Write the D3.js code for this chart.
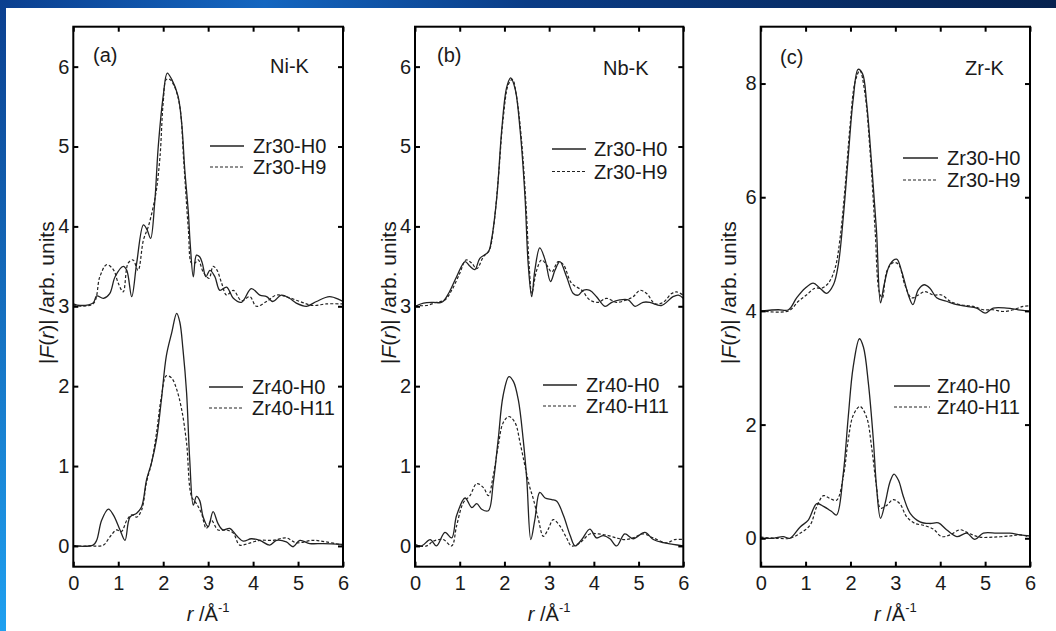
<!DOCTYPE html>
<html><head><meta charset="utf-8">
<script src="https://cdn.jsdelivr.net/npm/d3@7"></script>
<style>body{margin:0;overflow:hidden;background:#fff;} text{font-family:"Liberation Sans",Arial,sans-serif;fill:#1a1a1a;}</style>
</head><body><svg id="c" width="1056" height="631"></svg>
<script>
// ---------- data ----------
const xTicks = [0, 1, 2, 3, 4, 5, 6];
const yTicksAB = [0, 1, 2, 3, 4, 5, 6];
const yTicksC = [0, 2, 4, 6, 8];
const panelLabels = ["(a)", "(b)", "(c)"];
const edgeLabels = ["Ni-K", "Nb-K", "Zr-K"];
const legendTop = ["Zr30-H0", "Zr30-H9"];
const legendBottom = ["Zr40-H0", "Zr40-H11"];

// Panel (a) Ni-K  [r, |F(r)|]
const niK_Zr30H0 = [[0,3.03],[0.15,3.01],[0.44,3.04],[0.52,3.13],[0.67,3.1],[0.81,3.16],[0.93,3.37],[1.11,3.5],[1.19,3.45],[1.3,3.12],[1.41,3.54],[1.56,4.02],[1.64,3.96],[1.72,3.85],[1.81,4.29],[1.89,5.0],[2.0,5.63],[2.09,5.92],[2.19,5.84],[2.33,5.63],[2.41,5.3],[2.48,4.71],[2.56,4.17],[2.6,3.79],[2.67,3.37],[2.74,3.64],[2.81,3.62],[2.87,3.54],[2.95,3.37],[3.04,3.45],[3.15,3.37],[3.26,3.2],[3.41,3.24],[3.56,3.1],[3.74,3.05],[3.96,3.22],[4.15,3.14],[4.3,3.12],[4.44,3.06],[4.63,3.14],[4.81,3.1],[4.96,3.04],[5.19,3.0],[5.41,3.06],[5.7,3.12],[5.93,3.08],[6,3.06]];
const niK_Zr30H9 = [[0,3.01],[0.44,3.03],[0.59,3.37],[0.74,3.52],[0.89,3.46],[1.0,3.29],[1.11,3.18],[1.22,3.54],[1.33,3.58],[1.44,3.45],[1.56,3.83],[1.67,4.0],[1.78,4.25],[1.85,4.46],[1.93,4.88],[2.0,5.55],[2.07,5.84],[2.15,5.84],[2.26,5.74],[2.37,5.5],[2.46,4.79],[2.56,3.96],[2.63,3.54],[2.7,3.54],[2.78,3.58],[2.89,3.43],[3.02,3.35],[3.11,3.5],[3.19,3.46],[3.3,3.29],[3.41,3.14],[3.56,3.2],[3.74,3.07],[3.93,3.12],[4.07,3.0],[4.3,3.06],[4.52,3.14],[4.74,3.12],[5.04,3.06],[5.33,3.01],[5.63,3.03],[6,3.03]];
const niK_Zr40H0 = [[0,0.0],[0.44,0.01],[0.52,0.07],[0.63,0.32],[0.78,0.46],[0.89,0.39],[1.04,0.2],[1.15,0.07],[1.26,0.36],[1.41,0.41],[1.52,0.49],[1.63,0.83],[1.74,1.04],[1.85,1.33],[1.96,1.83],[2.07,2.38],[2.19,2.67],[2.3,2.91],[2.37,2.8],[2.44,2.46],[2.52,1.92],[2.59,1.08],[2.67,0.51],[2.74,0.62],[2.81,0.57],[2.89,0.36],[3.0,0.24],[3.11,0.43],[3.22,0.28],[3.33,0.2],[3.48,0.22],[3.63,0.13],[3.78,0.06],[3.96,0.09],[4.15,0.07],[4.37,0.01],[4.52,0.07],[4.74,0.05],[4.89,-0.01],[5.04,0.07],[5.26,0.03],[5.56,0.03],[6,0.02]];
const niK_Zr40H11 = [[0,0.0],[0.37,0.0],[0.67,0.01],[0.81,0.11],[0.96,0.2],[1.07,0.18],[1.19,0.32],[1.3,0.39],[1.41,0.36],[1.52,0.45],[1.63,0.8],[1.74,1.04],[1.85,1.41],[1.96,1.87],[2.07,2.13],[2.19,2.1],[2.3,1.96],[2.41,1.71],[2.52,1.29],[2.63,0.62],[2.74,0.53],[2.85,0.41],[2.96,0.22],[3.07,0.32],[3.22,0.2],[3.41,0.2],[3.56,0.16],[3.7,0.01],[3.89,0.03],[4.15,0.07],[4.44,0.07],[4.74,0.1],[4.96,0.04],[5.33,0.07],[5.63,0.05],[6,0.01]];

// Panel (b) Nb-K
const nbK_Zr30H0 = [[0,3.0],[0.19,3.04],[0.41,3.05],[0.6,3.05],[0.75,3.16],[0.93,3.37],[1.12,3.56],[1.23,3.5],[1.34,3.46],[1.45,3.6],[1.64,3.68],[1.71,3.83],[1.83,4.37],[1.94,5.21],[2.05,5.74],[2.14,5.86],[2.24,5.72],[2.35,5.21],[2.46,4.37],[2.53,3.54],[2.61,3.12],[2.68,3.45],[2.79,3.73],[2.91,3.58],[3.03,3.31],[3.13,3.45],[3.24,3.56],[3.39,3.37],[3.54,3.16],[3.65,3.14],[3.76,3.2],[3.91,3.2],[4.06,3.12],[4.25,3.0],[4.4,3.05],[4.58,3.08],[4.77,3.08],[4.92,3.0],[5.1,3.05],[5.25,3.05],[5.51,3.01],[5.77,3.12],[5.89,3.14],[6,3.1]];
const nbK_Zr30H9 = [[0,3.01],[0.26,3.01],[0.48,3.05],[0.67,3.08],[0.82,3.2],[1.0,3.41],[1.14,3.58],[1.27,3.54],[1.38,3.47],[1.53,3.62],[1.66,3.7],[1.75,3.96],[1.86,4.58],[1.97,5.34],[2.09,5.78],[2.18,5.84],[2.27,5.63],[2.38,5.09],[2.48,4.29],[2.56,3.45],[2.61,3.16],[2.72,3.45],[2.83,3.58],[2.94,3.52],[3.06,3.43],[3.2,3.56],[3.32,3.52],[3.5,3.29],[3.73,3.2],[3.91,3.08],[4.1,3.05],[4.28,3.1],[4.51,3.05],[4.73,3.08],[4.88,3.12],[5.03,3.2],[5.18,3.16],[5.37,3.03],[5.55,3.05],[5.74,3.16],[5.85,3.18],[6,3.14]];
const nbK_Zr40H0 = [[0,0.02],[0.15,0.0],[0.34,0.08],[0.48,0.0],[0.67,0.17],[0.82,0.1],[0.93,0.38],[1.12,0.6],[1.27,0.48],[1.38,0.53],[1.49,0.46],[1.64,0.44],[1.75,0.79],[1.86,1.33],[1.97,1.88],[2.1,2.12],[2.2,2.06],[2.31,1.83],[2.42,1.33],[2.5,0.83],[2.59,0.08],[2.68,0.33],[2.79,0.67],[2.91,0.6],[3.06,0.58],[3.17,0.56],[3.32,0.38],[3.47,0.13],[3.58,0.0],[3.73,0.08],[3.91,0.21],[4.06,0.1],[4.21,0.13],[4.36,0.09],[4.51,0.0],[4.69,0.15],[4.88,0.09],[5.14,0.17],[5.33,0.08],[5.55,0.04],[5.77,0.02],[6,0.0]];
const nbK_Zr40H11 = [[0,0.0],[0.26,0.0],[0.41,0.06],[0.63,0.08],[0.82,0.0],[0.93,0.25],[1.08,0.54],[1.23,0.63],[1.38,0.78],[1.53,0.73],[1.64,0.63],[1.75,0.88],[1.86,1.25],[1.97,1.54],[2.1,1.62],[2.24,1.54],[2.35,1.29],[2.46,1.0],[2.56,0.75],[2.65,0.58],[2.76,0.33],[2.87,0.12],[2.98,0.21],[3.09,0.33],[3.24,0.25],[3.39,0.1],[3.5,0.0],[3.69,0.04],[3.91,0.15],[4.1,0.15],[4.32,0.13],[4.51,0.1],[4.69,0.08],[4.88,0.1],[5.1,0.15],[5.33,0.1],[5.63,0.04],[5.81,0.08],[6,0.08]];

// Panel (c) Zr-K
const zrK_Zr30H0 = [[0,4.0],[0.39,4.02],[0.62,4.02],[0.8,4.23],[0.99,4.4],[1.17,4.49],[1.32,4.4],[1.47,4.31],[1.62,4.46],[1.73,4.82],[1.84,5.65],[1.95,6.71],[2.06,7.72],[2.17,8.25],[2.27,8.17],[2.36,7.66],[2.47,6.6],[2.58,5.41],[2.67,4.14],[2.75,4.46],[2.88,4.82],[3.03,4.91],[3.14,4.7],[3.29,4.28],[3.39,4.11],[3.51,4.37],[3.64,4.46],[3.77,4.4],[3.92,4.23],[4.14,4.17],[4.37,4.11],[4.59,4.08],[4.81,4.05],[5.0,3.96],[5.18,4.05],[5.48,4.05],[5.74,4.02],[6,3.99]];
const zrK_Zr30H9 = [[0,4.0],[0.62,4.0],[0.84,4.17],[1.02,4.28],[1.21,4.4],[1.36,4.4],[1.51,4.49],[1.66,4.76],[1.77,5.29],[1.88,6.18],[1.99,7.25],[2.1,8.02],[2.21,8.23],[2.32,7.84],[2.44,6.77],[2.55,5.41],[2.64,4.34],[2.71,4.23],[2.81,4.7],[2.95,4.85],[3.07,4.82],[3.21,4.46],[3.36,4.23],[3.51,4.28],[3.66,4.34],[3.85,4.28],[4.03,4.28],[4.22,4.17],[4.44,4.11],[4.74,4.08],[4.96,4.02],[5.18,4.02],[5.4,3.99],[5.63,4.02],[5.85,4.08],[6,4.09]];
const zrK_Zr40H0 = [[0,0.0],[0.28,0.0],[0.5,0.03],[0.65,0.0],[0.88,0.2],[1.06,0.32],[1.25,0.61],[1.4,0.56],[1.58,0.47],[1.69,0.41],[1.84,1.14],[1.95,2.13],[2.06,3.01],[2.2,3.51],[2.29,3.36],[2.4,2.72],[2.51,1.73],[2.58,0.91],[2.67,0.35],[2.77,0.61],[2.88,0.99],[2.97,1.13],[3.07,1.02],[3.18,0.73],[3.33,0.44],[3.55,0.29],[3.77,0.26],[3.96,0.27],[4.14,0.15],[4.37,0.03],[4.59,0.09],[4.77,-0.02],[4.96,0.09],[5.26,0.09],[5.55,0.09],[5.78,0.06],[6,0.04]];
const zrK_Zr40H11 = [[0,0.02],[0.36,0.0],[0.65,0.0],[0.88,0.09],[1.1,0.23],[1.25,0.56],[1.4,0.75],[1.54,0.7],[1.69,0.67],[1.84,1.08],[1.95,1.73],[2.06,2.16],[2.21,2.32],[2.36,2.13],[2.47,1.61],[2.58,0.91],[2.67,0.53],[2.81,0.58],[2.95,0.68],[3.1,0.61],[3.25,0.38],[3.44,0.26],[3.62,0.23],[3.85,0.16],[4.03,0.03],[4.22,0.06],[4.44,0.15],[4.63,0.09],[4.88,0.02],[5.18,0.02],[5.55,0.04],[5.78,0.06],[6,0.02]];

// ---------- layout ----------
const svg = d3.select("#c");
const defs = svg.append("defs");
const g1 = defs.append("linearGradient").attr("id","bg").attr("x1","0").attr("y1","0").attr("x2","1").attr("y2","0");
g1.append("stop").attr("offset","0").attr("stop-color","#0b3f8f");
g1.append("stop").attr("offset","0.25").attr("stop-color","#1466c0");
g1.append("stop").attr("offset","0.5").attr("stop-color","#0a3c86");
g1.append("stop").attr("offset","1").attr("stop-color","#06224f");
svg.append("rect").attr("width",1056).attr("height",631).attr("fill","url(#bg)");
const g2 = defs.append("linearGradient").attr("id","lb").attr("x1","0").attr("y1","0").attr("x2","0").attr("y2","1");
g2.append("stop").attr("offset","0").attr("stop-color","#0b3f8f");
g2.append("stop").attr("offset","1").attr("stop-color","#1fa0f0");
svg.append("rect").attr("x",0).attr("y",0).attr("width",8).attr("height",631).attr("fill","url(#lb)");
svg.append("rect").attr("x",6).attr("y",8).attr("width",1050).attr("height",623).attr("fill","#ffffff");

const panels = [
  {left:73.3, right:343, ydom:[-0.26,6.5], yTicks:yTicksAB, data:[niK_Zr30H0,niK_Zr30H9,niK_Zr40H0,niK_Zr40H11],
   titleX:46.7, lab:[93,62], edge:[270,73], legT:{x1:210,x2:244,ys:[146,167],tx:253}, legB:{x1:209,x2:243,ys:[387,408],tx:252}},
  {left:415, right:683.3, ydom:[-0.26,6.5], yTicks:yTicksAB, data:[nbK_Zr30H0,nbK_Zr30H9,nbK_Zr40H0,nbK_Zr40H11],
   titleX:388, lab:[437,62], edge:[603,75], legT:{x1:552,x2:586,ys:[149,171.5],tx:594}, legB:{x1:543,x2:577,ys:[385,406],tx:586}},
  {left:760.7, right:1030, ydom:[-0.5,9.0], yTicks:yTicksC, data:[zrK_Zr30H0,zrK_Zr30H9,zrK_Zr40H0,zrK_Zr40H11],
   titleX:728, lab:[780,64], edge:[965,75], legT:{x1:903,x2:938,ys:[158,180],tx:947}, legB:{x1:894,x2:930,ys:[386,407],tx:937}}
];
const plotTop = 26.7, plotBottom = 566.7;
const styles = [{w:1.3, dash:null},{w:1.2, dash:"3,2"}];

panels.forEach((p, i) => {
  const x = d3.scaleLinear().domain([0,6]).range([p.left, p.right]);
  const y = d3.scaleLinear().domain(p.ydom).range([plotBottom, plotTop]);
  const g = svg.append("g");

  const line = d3.line().x(d => x(d[0])).y(d => y(d[1])).curve(d3.curveCatmullRom.alpha(0.5));
  p.data.forEach((s, k) => {
    const st = styles[k % 2];
    g.append("path").datum(s).attr("d", line).attr("fill","none")
      .attr("stroke", "#222").attr("stroke-width", st.w)
      .attr("stroke-dasharray", st.dash);
  });

  const tl = 5;
  const axB = g.append("g").attr("transform",`translate(0,${plotBottom})`)
    .call(d3.axisBottom(x).tickValues(xTicks).tickSizeInner(-tl).tickSizeOuter(0).tickPadding(10).tickFormat(d3.format("d")));
  const axT = g.append("g").attr("transform",`translate(0,${plotTop})`)
    .call(d3.axisTop(x).tickValues(xTicks).tickSizeInner(-tl).tickSizeOuter(0).tickFormat(""));
  const axL = g.append("g").attr("transform",`translate(${p.left},0)`)
    .call(d3.axisLeft(y).tickValues(p.yTicks).tickSizeInner(-tl).tickSizeOuter(0).tickPadding(4).tickFormat(d3.format("d")));
  const axR = g.append("g").attr("transform",`translate(${p.right},0)`)
    .call(d3.axisRight(y).tickValues(p.yTicks).tickSizeInner(-tl).tickSizeOuter(0).tickFormat(""));
  [axB, axT, axL, axR].forEach(a => {
    a.select(".domain").remove();
    a.selectAll("line").attr("stroke","#000").attr("stroke-width",2);
    a.selectAll("text").attr("font-family",'"Liberation Sans",Arial,sans-serif').attr("font-size",20).attr("fill","#1a1a1a");
  });
  axB.selectAll("text").attr("dy","0.71em").attr("y", 9);
  axL.selectAll("text").attr("x", -4);
  g.append("rect").attr("x",p.left).attr("y",plotTop).attr("width",p.right-p.left).attr("height",plotBottom-plotTop)
    .attr("fill","none").attr("stroke","#000").attr("stroke-width",2);

  g.append("text").attr("x",p.lab[0]).attr("y",p.lab[1]).attr("font-size",20).text(panelLabels[i]);
  g.append("text").attr("x",p.edge[0]).attr("y",p.edge[1]).attr("font-size",20).text(edgeLabels[i]);

  [[p.legT, legendTop],[p.legB, legendBottom]].forEach(([L, names]) => {
    names.forEach((nm, k) => {
      const st = styles[k];
      g.append("line").attr("x1",L.x1).attr("x2",L.x2).attr("y1",L.ys[k]).attr("y2",L.ys[k])
        .attr("stroke","#222").attr("stroke-width",st.w).attr("stroke-dasharray",st.dash);
      g.append("text").attr("x",L.tx).attr("y",L.ys[k]).attr("dy","0.36em").attr("font-size",20).text(nm);
    });
  });

  const xt = g.append("text").attr("x",(p.left+p.right)/2).attr("y",621).attr("text-anchor","middle").attr("font-size",20);
  xt.append("tspan").attr("font-style","italic").text("r");
  xt.append("tspan").text(" /Å");
  xt.append("tspan").attr("font-size",13).attr("dy",-9).text("-1");

  const yt = g.append("text").attr("transform",`translate(${p.titleX},${(plotTop+plotBottom)/2 - 4}) rotate(-90)`)
    .attr("text-anchor","middle").attr("dy","0.36em").attr("font-size",21);
  yt.append("tspan").text("|");
  yt.append("tspan").attr("font-style","italic").text("F");
  yt.append("tspan").text("(");
  yt.append("tspan").attr("font-style","italic").text("r");
  yt.append("tspan").text(")| /arb. units");
});
</script></body></html>
